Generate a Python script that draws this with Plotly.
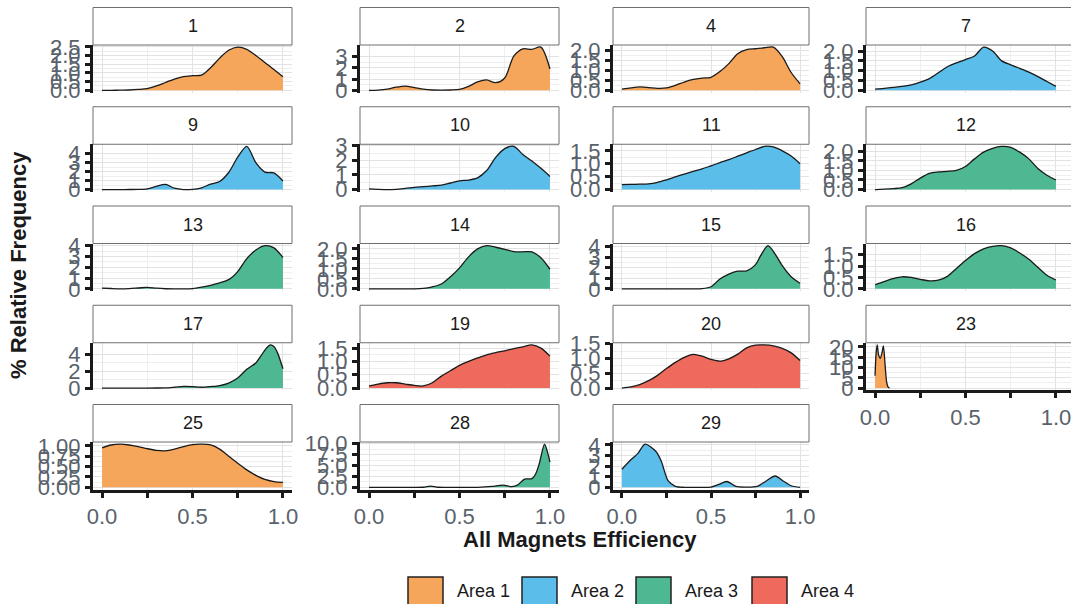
import plotly.graph_objects as go

# ---------------------------------------------------------------------------
# Data: kernel density of magnet efficiency per site, sampled at x positions
# ---------------------------------------------------------------------------
GRID = [0.0, 0.05, 0.1, 0.15, 0.2, 0.25, 0.3, 0.35, 0.4, 0.45, 0.5,
        0.55, 0.6, 0.65, 0.7, 0.75, 0.8, 0.85, 0.9, 0.95, 1.0]

SITES = ["1", "2", "4", "7", "9", "10", "11", "12", "13", "14",
         "15", "16", "17", "19", "20", "23", "25", "28", "29"]
SITE_AREA = ["Area 1", "Area 1", "Area 1", "Area 2", "Area 2", "Area 2", "Area 2",
             "Area 3", "Area 3", "Area 3", "Area 3", "Area 3", "Area 3",
             "Area 4", "Area 4", "Area 1", "Area 1", "Area 3", "Area 2"]

AREAS = ["Area 1", "Area 2", "Area 3", "Area 4"]
AREA_COLORS = ["#F5A65B", "#5BBEEA", "#4DB891", "#EE6A5D"]

D1 = [0.0, 0.0, 0.01, 0.02, 0.05, 0.1, 0.25, 0.45, 0.65, 0.79, 0.84,
      0.87, 1.3, 1.85, 2.3, 2.48, 2.35, 2.0, 1.6, 1.2, 0.78]
D2 = [0.0, 0.02, 0.1, 0.28, 0.38, 0.25, 0.1, 0.03, 0.02, 0.03, 0.08,
      0.35, 0.75, 0.93, 0.68, 1.1, 3.05, 3.7, 3.65, 3.85, 1.9]
D4 = [0.06, 0.12, 0.17, 0.14, 0.1, 0.12, 0.25, 0.42, 0.55, 0.62, 0.66,
      0.95, 1.35, 1.85, 2.05, 2.1, 2.15, 2.18, 1.7, 0.9, 0.33]
D7 = [0.06, 0.1, 0.15, 0.2, 0.28, 0.42, 0.6, 0.9, 1.2, 1.4, 1.57,
      1.75, 2.2, 2.0, 1.5, 1.3, 1.12, 0.93, 0.7, 0.45, 0.2]
D9 = [0.0, 0.0, 0.0, 0.01, 0.02, 0.08, 0.35, 0.58, 0.15, 0.0, 0.02,
      0.2, 0.6, 0.9, 1.9, 3.6, 4.8, 3.0, 1.95, 1.85, 0.95]
D10 = [0.05, 0.02, 0.0, 0.02, 0.08, 0.15, 0.2, 0.25, 0.3, 0.45, 0.6,
       0.65, 0.8, 1.3, 2.2, 2.8, 2.95, 2.4, 1.95, 1.45, 0.9]
D11 = [0.19, 0.2, 0.21, 0.22, 0.28, 0.38, 0.49, 0.6, 0.7, 0.8, 0.92,
       1.04, 1.16, 1.29, 1.42, 1.55, 1.67, 1.65, 1.5, 1.3, 1.0]
D12 = [0.0, 0.02, 0.05, 0.1, 0.3, 0.6, 0.85, 0.92, 0.95, 1.0, 1.2,
       1.6, 1.95, 2.15, 2.25, 2.2, 1.95, 1.6, 1.1, 0.75, 0.5]
D13 = [0.07, 0.03, 0.0, 0.02, 0.08, 0.14, 0.06, 0.01, 0.0, 0.0, 0.02,
       0.15, 0.33, 0.55, 0.85, 1.6, 2.8, 3.6, 4.0, 3.8, 2.9]
D14 = [0.0, 0.0, 0.0, 0.0, 0.0, 0.0, 0.02, 0.1, 0.24, 0.6, 1.05,
       1.6, 2.0, 2.16, 2.08, 1.98, 1.86, 1.85, 1.85, 1.55, 0.98]
X15 = [0.0, 0.1, 0.2, 0.3, 0.4, 0.45, 0.5, 0.55, 0.6, 0.65, 0.7,
       0.75, 0.78, 0.82, 0.86, 0.9, 0.95, 1.0]
D15 = [0.0, 0.0, 0.0, 0.0, 0.0, 0.02, 0.2, 0.93, 1.4, 1.68, 1.7,
       2.3, 3.2, 4.1, 3.3, 2.2, 1.15, 0.53]
D16 = [0.18, 0.32, 0.45, 0.53, 0.5, 0.42, 0.35, 0.38, 0.55, 0.9, 1.25,
       1.55, 1.76, 1.87, 1.9, 1.8, 1.58, 1.3, 0.95, 0.6, 0.39]
X17 = [0.0, 0.1, 0.2, 0.3, 0.35, 0.4, 0.45, 0.5, 0.55, 0.6, 0.65,
       0.7, 0.75, 0.8, 0.85, 0.88, 0.91, 0.93, 0.95, 0.97, 1.0]
D17 = [0.0, 0.0, 0.0, 0.01, 0.02, 0.1, 0.2, 0.18, 0.1, 0.18, 0.3,
       0.6, 1.2, 2.25, 3.0, 3.9, 4.8, 5.15, 4.95, 4.2, 2.3]
D19 = [0.08, 0.15, 0.2, 0.2, 0.15, 0.1, 0.08, 0.2, 0.45, 0.65, 0.85,
       1.0, 1.13, 1.25, 1.33, 1.4, 1.48, 1.55, 1.62, 1.5, 1.2]
D20 = [0.0, 0.04, 0.12, 0.25, 0.43, 0.66, 0.87, 1.04, 1.14, 1.08, 0.97,
       0.91, 0.99, 1.15, 1.36, 1.45, 1.46, 1.43, 1.34, 1.19, 0.93]
X23 = [0.0, 0.006, 0.012, 0.02, 0.029, 0.038, 0.046, 0.055, 0.064, 0.072, 0.08]
D23 = [6.0, 17.0, 21.0, 16.0, 14.5, 17.0, 20.5, 12.0, 3.0, 0.5, 0.0]
D25 = [0.95, 1.02, 1.04, 1.02, 0.98, 0.93, 0.89, 0.88, 0.92, 0.98, 1.03,
       1.04, 1.02, 0.92, 0.75, 0.58, 0.42, 0.29, 0.19, 0.14, 0.12]
X28 = [0.0, 0.1, 0.2, 0.3, 0.34, 0.38, 0.45, 0.6, 0.68, 0.74, 0.79,
       0.82, 0.86, 0.9, 0.92, 0.94, 0.97, 0.985, 1.0]
D28 = [0.0, 0.0, 0.0, 0.02, 0.3, 0.02, 0.0, 0.0, 0.2, 0.5, 0.15,
       0.5, 1.9, 2.0, 3.0, 5.3, 9.9, 8.3, 5.8]
X29 = [0.0, 0.05, 0.09, 0.13, 0.19, 0.22, 0.26, 0.3, 0.35, 0.45, 0.5,
       0.54, 0.59, 0.64, 0.7, 0.76, 0.81, 0.86, 0.91, 0.95, 1.0]
D29 = [1.7, 2.6, 3.2, 4.07, 3.4, 2.5, 0.6, 0.1, 0.0, 0.0, 0.03,
       0.25, 0.55, 0.08, 0.02, 0.1, 0.6, 1.07, 0.55, 0.15, 0.0]

# y-axis tick labels used by the free scales
TICKS_HALF_25 = ["0.0", "0.5", "1.0", "1.5", "2.0", "2.5"]
TICKS_HALF_20 = ["0.0", "0.5", "1.0", "1.5", "2.0"]
TICKS_HALF_15 = ["0.0", "0.5", "1.0", "1.5"]
TICKS_INT_3 = ["0", "1", "2", "3"]
TICKS_INT_4 = ["0", "1", "2", "3", "4"]
TICKS_EVEN_4 = ["0", "2", "4"]
TICKS_FIVES = ["0", "5", "10", "15", "20"]
TICKS_QUARTER = ["0.00", "0.25", "0.50", "0.75", "1.00"]
TICKS_2_5 = ["0.0", "2.5", "5.0", "7.5", "10.0"]
X_TICKS = ["0.0", "0.5", "1.0"]
X_MINOR = [0.25, 0.75]

PANEL_X = [GRID, GRID, GRID, GRID, GRID, GRID, GRID, GRID, GRID, GRID,
           X15, GRID, X17, GRID, GRID, X23, GRID, X28, X29]
PANEL_Y = [D1, D2, D4, D7, D9, D10, D11, D12, D13, D14,
           D15, D16, D17, D19, D20, D23, D25, D28, D29]
PANEL_TICKS = [TICKS_HALF_25, TICKS_INT_3, TICKS_HALF_20, TICKS_HALF_20,
               TICKS_INT_4, TICKS_INT_3, TICKS_HALF_15, TICKS_HALF_20,
               TICKS_INT_4, TICKS_HALF_20, TICKS_INT_4, TICKS_HALF_15,
               TICKS_EVEN_4, TICKS_HALF_15, TICKS_HALF_15, TICKS_FIVES,
               TICKS_QUARTER, TICKS_2_5, TICKS_INT_4]

# ---------------------------------------------------------------------------
# Layout geometry (pixels)
# ---------------------------------------------------------------------------
W, H = 1071, 604
NCOL = 4
COLS = [(93, 292), (360, 559), (613, 809), (866, 1071)]
ROW_PITCH = 99.25
STRIP_TOP0, STRIP_BOT0, PANEL_BOT0 = 7.5, 45.0, 92.5

FONT = "Liberation Sans, Arial, sans-serif"
TICK_COLOR = "#59626b"
GRID_MAJOR = "#e2e2e2"
GRID_MINOR = "#efefef"


def px(x):
    return x / W


def py(y):
    return (H - y) / H


fig = go.Figure()
shapes = []
annotations = []
layout = {}
n = len(SITES)

for i, site in enumerate(SITES):
    r, c = divmod(i, NCOL)
    k = "" if i == 0 else str(i + 1)
    x0p, x1p = COLS[c]
    strip_top = STRIP_TOP0 + ROW_PITCH * r
    strip_bot = STRIP_BOT0 + ROW_PITCH * r
    panel_bot = PANEL_BOT0 + ROW_PITCH * r

    color = AREA_COLORS[AREAS.index(SITE_AREA[i])]
    xs, ys = PANEL_X[i], PANEL_Y[i]
    fig.add_trace(go.Scatter(
        x=xs, y=ys, xaxis="x" + k, yaxis="y" + k, mode="lines",
        line=dict(color="#1a1a1a", width=1.3, shape="spline", smoothing=0.8),
        fill="tozeroy", fillcolor=color, showlegend=False, hoverinfo="skip"))

    # x axis drawn only where no panel sits below
    has_xaxis = i + NCOL >= n
    # the last column is cut by the page edge
    xmax = 1.05 if c < NCOL - 1 else 1.05 + (1071 - 1065) / 181.0

    layout["xaxis" + k] = dict(
        domain=[px(x0p), px(x1p)], anchor="y" + k, range=[-0.05, xmax],
        automargin=False, ticklabeloverflow="allow",
        tickvals=[0.0, 0.5, 1.0], ticktext=X_TICKS,
        showgrid=True, gridcolor=GRID_MAJOR, gridwidth=1.1, zeroline=False,
        minor=dict(tickvals=X_MINOR, showgrid=True, gridcolor=GRID_MINOR, gridwidth=0.7,
                   ticks="outside" if has_xaxis else "", ticklen=5, tickwidth=2.5,
                   tickcolor="#1a1a1a"),
        showline=has_xaxis, linecolor="#1a1a1a", linewidth=3,
        ticks="outside" if has_xaxis else "", ticklen=5, tickwidth=2.5, tickcolor="#1a1a1a",
        showticklabels=has_xaxis, tickfont=dict(family=FONT, size=22, color=TICK_COLOR),
        fixedrange=True)

    tick_text = PANEL_TICKS[i]
    tick_vals = [float(t) for t in tick_text]
    minor_vals = [(a + b) / 2 for a, b in zip(tick_vals[:-1], tick_vals[1:])]
    ymax = max(ys)
    layout["yaxis" + k] = dict(
        domain=[py(panel_bot), py(strip_bot)], anchor="x" + k,
        range=[-0.05 * ymax, 1.05 * ymax], automargin=False, ticklabeloverflow="allow",
        tickvals=tick_vals, ticktext=tick_text,
        showgrid=True, gridcolor=GRID_MAJOR, gridwidth=1.1, zeroline=False,
        minor=dict(tickvals=minor_vals, showgrid=True, gridcolor=GRID_MINOR, gridwidth=0.7),
        showline=True, linecolor="#1a1a1a", linewidth=3,
        ticks="outside", ticklen=5, tickwidth=2.5, tickcolor="#1a1a1a",
        tickfont=dict(family=FONT, size=22, color=TICK_COLOR),
        fixedrange=True)

    # facet strip
    strip_right = x1p if c < NCOL - 1 else x1p + 6
    shapes.append(dict(type="rect", xref="paper", yref="paper",
                       x0=px(x0p), x1=px(strip_right), y0=py(strip_bot), y1=py(strip_top),
                       fillcolor="white", line=dict(color="#6f6f6f", width=1), layer="above"))
    annotations.append(dict(text=site, xref="paper", yref="paper",
                            x=px((x0p + min(x1p, 1065)) / 2), y=py((strip_top + strip_bot) / 2),
                            xanchor="center", yanchor="middle", showarrow=False,
                            font=dict(family=FONT, size=18, color="#1a1a1a")))

# axis titles
annotations.append(dict(text="<b>% Relative Frequency</b>", xref="paper", yref="paper",
                        x=px(18), y=py(265), xanchor="center", yanchor="middle",
                        textangle=-90, showarrow=False,
                        font=dict(family=FONT, size=22, color="#1a1a1a")))
annotations.append(dict(text="<b>All Magnets Efficiency</b>", xref="paper", yref="paper",
                        x=px(580), y=py(539), xanchor="center", yanchor="middle",
                        showarrow=False, font=dict(family=FONT, size=22, color="#1a1a1a")))

# legend keys
KEY_LEFT = [408, 522, 636, 752]
for name, col, kx in zip(AREAS, AREA_COLORS, KEY_LEFT):
    shapes.append(dict(type="rect", xref="paper", yref="paper",
                       x0=px(kx), x1=px(kx + 35), y0=py(612), y1=py(577),
                       fillcolor=col, line=dict(color="#222222", width=1.5)))
    annotations.append(dict(text=name, xref="paper", yref="paper",
                            x=px(kx + 47), y=py(591), xanchor="left", yanchor="middle",
                            showarrow=False, font=dict(family=FONT, size=18, color="#1a1a1a")))

fig.update_layout(
    width=W, height=H, margin=dict(l=0, r=0, t=0, b=0, autoexpand=False),
    paper_bgcolor="white", plot_bgcolor="white",
    showlegend=False, shapes=shapes, annotations=annotations,
    font=dict(family=FONT), **layout)

fig.write_html("out.html")
